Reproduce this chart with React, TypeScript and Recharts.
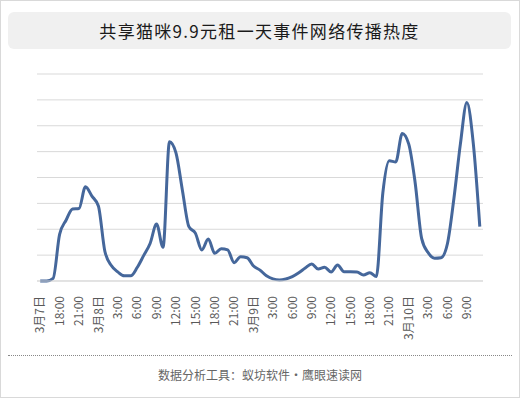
import React from "react";
import { LineChart, Line, XAxis, YAxis, CartesianGrid } from "recharts";

const titleText = "共享猫咪9.9元租一天事件网络传播热度";
const footerText = "数据分析工具：蚁坊软件・鹰眼速读网";

const timeLabels: string[] = [
  "3月7日", "16:00", "17:00", "18:00", "19:00", "20:00", "21:00", "22:00", "23:00",
  "3月8日", "1:00", "2:00", "3:00", "4:00", "5:00", "6:00", "7:00", "8:00", "9:00", "10:00", "11:00", "12:00",
  "13:00", "14:00", "15:00", "16:00", "17:00", "18:00", "19:00", "20:00", "21:00", "22:00", "23:00",
  "3月9日", "1:00", "2:00", "3:00", "4:00", "5:00", "6:00", "7:00", "8:00", "9:00", "10:00", "11:00", "12:00",
  "13:00", "14:00", "15:00", "16:00", "17:00", "18:00", "19:00", "20:00", "21:00", "22:00", "23:00",
  "3月10日", "1:00", "2:00", "3:00", "4:00", "5:00", "6:00", "7:00", "8:00", "9:00", "10:00", "11:00",
];

const heatValues: number[] = [
  0, 0, 0.1, 1.8, 2.35, 2.78, 2.8, 3.64, 3.28,
  2.9, 1.15, 0.6, 0.35, 0.2, 0.2, 0.52, 0.98, 1.45, 2.2, 1.3, 5.38, 4.95,
  3.5, 2.1, 1.85, 1.2, 1.62, 1.07, 1.25, 1.2, 0.71, 0.94, 0.9,
  0.58, 0.42, 0.2, 0.08, 0.04, 0.08, 0.17, 0.32, 0.5, 0.66, 0.46, 0.53, 0.35,
  0.62, 0.36, 0.36, 0.35, 0.23, 0.32, 0.17, 3.4, 4.65, 4.6, 5.7,
  5.3, 3.8, 1.65, 1.1, 0.88, 0.9, 1.45, 3.2, 5.3, 6.9, 5.3, 2.1,
];

const yTicks: number[] = [0, 1, 2, 3, 4, 5, 6, 7, 8];

const data = timeLabels.map((t, i) => ({ t, v: heatValues[i] }));

const FONT = '"Noto Sans CJK SC", "Noto Sans", sans-serif';

const RotatedTick = (props: any) => {
  const { x, y, payload } = props;
  return (
    <g transform={`translate(${x},${y + 7})`}>
      <text
        transform="rotate(-90)"
        textAnchor="end"
        dy="0.35em"
        fontSize={12}
        fill="#595959"
        fontFamily={FONT}
      >
        {payload.value}
      </text>
    </g>
  );
};

export default function App() {
  return (
    <div
      style={{
        position: "absolute",
        left: 0,
        top: 0,
        width: 520,
        height: 398,
        boxSizing: "border-box",
        border: "1px solid #d9d9d9",
        background: "#fff",
        fontFamily: FONT,
        overflow: "hidden",
      }}
    >
      <div
        style={{
          position: "absolute",
          left: 7,
          top: 11,
          width: 503,
          height: 37,
          background: "#f0f0f0",
          borderRadius: 6,
          display: "flex",
          alignItems: "center",
          justifyContent: "center",
          fontSize: 17,
          letterSpacing: 1.3,
          color: "#1a1a1a",
        }}
      >
        {titleText}
      </div>
      <div style={{ position: "absolute", left: -1, top: -1 }}>
        <LineChart
          width={520}
          height={340}
          data={data}
          margin={{ top: 74, left: 37, right: 37, bottom: 9 }}
        >
          <CartesianGrid horizontal={true} vertical={false} stroke="#d9d9d9" />
          <YAxis hide domain={[0, 8]} ticks={yTicks} type="number" />
          <XAxis
            dataKey="t"
            interval={2}
            height={50}
            tickLine={false}
            axisLine={{ stroke: "#d9d9d9" }}
            padding={{ left: 3.2, right: 3.2 }}
            tick={<RotatedTick />}
          />
          <Line
            type="monotone"
            dataKey="v"
            stroke="#45679b"
            strokeWidth={3}
            dot={false}
            isAnimationActive={false}
          />
        </LineChart>
      </div>
      <div
        style={{
          position: "absolute",
          left: 7,
          top: 354,
          width: 504,
          borderTop: "1px dotted #888",
        }}
      />
      <div
        style={{
          position: "absolute",
          left: 0,
          top: 365,
          width: 518,
          textAlign: "center",
          fontSize: 12,
          color: "#666",
          lineHeight: "18px",
        }}
      >
        {footerText}
      </div>
    </div>
  );
}
